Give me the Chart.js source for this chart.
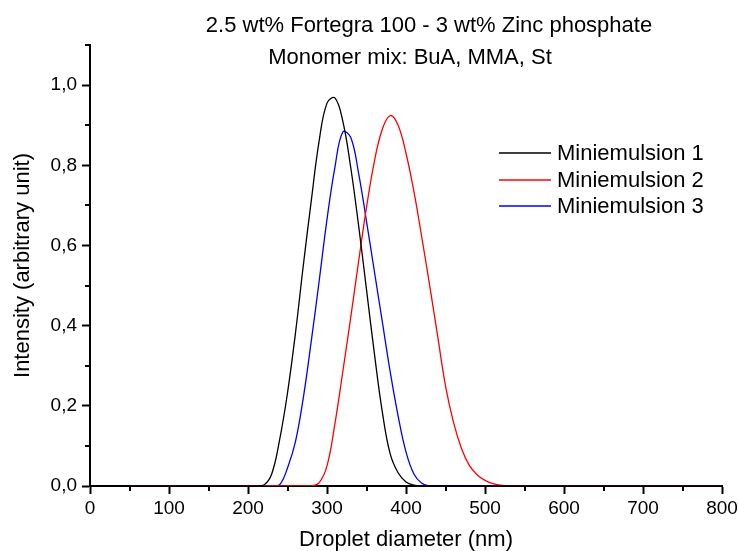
<!DOCTYPE html>
<html>
<head>
<meta charset="utf-8">
<script src="https://cdn.jsdelivr.net/npm/chart.js@4.4.1/dist/chart.umd.min.js"></script>
<style>
  html, body { margin: 0; padding: 0; background: #ffffff; }
  #wrap { width: 738px; height: 551px; }
</style>
</head>
<body>
<div id="wrap"><canvas id="c" width="738" height="551"></canvas></div>
<script>
// ---- chart text ----
const TITLE_LINES = ['2.5 wt% Fortegra 100 - 3 wt% Zinc phosphate', 'Monomer mix: BuA, MMA, St'];
const X_TITLE = 'Droplet diameter (nm)';
const Y_TITLE = 'Intensity (arbitrary unit)';
const SERIES_NAMES = ['Miniemulsion 1', 'Miniemulsion 2', 'Miniemulsion 3'];
const SERIES_COLORS = ['#000000', '#ff0000', '#0000ff'];

// ---- data ----
const DIAMETER_NM = [50, 100, 150,
  200, 210, 220, 230, 240, 250, 260, 270, 280, 290, 300, 310, 320, 330, 340, 350,
  360, 370, 380, 390, 400, 410, 420, 430, 440, 450, 460, 470, 480, 490, 500, 510,
  520, 530, 540, 550,
  600, 650, 700, 750, 800];

const MINIEMULSION_1 = [0, 0, 0,
  0, 0, 0.002, 0.03, 0.115, 0.232, 0.38, 0.55, 0.71, 0.86, 0.955, 0.968, 0.91, 0.795, 0.65, 0.49,
  0.33, 0.185, 0.08, 0.033, 0.01, 0.002, 0, 0, 0, 0, 0, 0, 0, 0, 0, 0,
  0, 0, 0, 0,
  0, 0, 0, 0, 0];

const MINIEMULSION_2 = [0, 0, 0,
  0, 0, 0, 0, 0, 0, 0, 0, 0, 0.008, 0.05, 0.155, 0.285, 0.42, 0.56, 0.695,
  0.81, 0.89, 0.924, 0.9, 0.83, 0.735, 0.62, 0.5, 0.375, 0.25, 0.16, 0.095, 0.052, 0.028, 0.014, 0.006,
  0.002, 0, 0, 0,
  0, 0, 0, 0, 0];

const MINIEMULSION_3 = [0, 0, 0,
  0, 0, 0, 0, 0.003, 0.045, 0.11, 0.22, 0.36, 0.51, 0.665, 0.795, 0.883, 0.87, 0.78, 0.66,
  0.535, 0.41, 0.285, 0.175, 0.085, 0.03, 0.007, 0, 0, 0, 0, 0, 0, 0, 0, 0,
  0, 0, 0, 0,
  0, 0, 0, 0, 0];

// ---- ticks ----
const X_TICK_VALUES = [0, 100, 200, 300, 400, 500, 600, 700, 800];
const X_TICK_LABELS = ['0', '100', '200', '300', '400', '500', '600', '700', '800'];
const X_MINOR_VALUES = [50, 150, 250, 350, 450, 550, 650, 750];
const Y_TICK_VALUES = [0, 0.2, 0.4, 0.6, 0.8, 1.0];
const Y_TICK_LABELS = ['0,0', '0,2', '0,4', '0,6', '0,8', '1,0'];
const Y_MINOR_VALUES = [0.1, 0.3, 0.5, 0.7, 0.9, 1.1];

const FONT_FAMILY = '"Liberation Sans", Arial, Helvetica, sans-serif';
Chart.defaults.font.family = FONT_FAMILY;
Chart.defaults.color = '#000000';

const SERIES = [MINIEMULSION_1, MINIEMULSION_2, MINIEMULSION_3];

function labelFor(values, labels, v, tol) {
  for (let i = 0; i < values.length; i++) {
    if (Math.abs(values[i] - v) < tol) return labels[i];
  }
  return '';
}
function isMajor(values, v, tol) {
  return values.some(t => Math.abs(t - v) < tol);
}

const decor = {
  id: 'decor',
  afterDraw(chart) {
    const { ctx, chartArea: a, scales: { x, y } } = chart;
    ctx.save();
    // minor ticks
    ctx.strokeStyle = '#000000';
    ctx.lineWidth = 2;
    ctx.beginPath();
    X_MINOR_VALUES.forEach(v => {
      const px = Math.round(x.getPixelForValue(v));
      ctx.moveTo(px, a.bottom);
      ctx.lineTo(px, a.bottom + 5);
    });
    Y_MINOR_VALUES.forEach(v => {
      const py = Math.round(y.getPixelForValue(v));
      ctx.moveTo(a.left, py);
      ctx.lineTo(a.left - 5, py);
    });
    ctx.stroke();

    // title lines
    ctx.fillStyle = '#000000';
    ctx.font = '22px ' + FONT_FAMILY;
    ctx.textAlign = 'center';
    ctx.textBaseline = 'alphabetic';
    ctx.fillText(TITLE_LINES[0], 429, 31.5);
    ctx.fillText(TITLE_LINES[1], 410, 64);

    // legend
    const rowsY = [153, 180, 206];
    ctx.textAlign = 'left';
    ctx.textBaseline = 'middle';
    chart.data.datasets.forEach((ds, i) => {
      const ly = rowsY[i];
      ctx.strokeStyle = ds.borderColor;
      ctx.lineWidth = 1.3;
      ctx.beginPath();
      ctx.moveTo(499, ly);
      ctx.lineTo(551, ly);
      ctx.stroke();
      ctx.fillStyle = '#000000';
      ctx.fillText(ds.label, 557, ly + 1);
    });
    ctx.restore();
  }
};

new Chart(document.getElementById('c'), {
  type: 'line',
  data: {
    datasets: SERIES.map((vals, i) => ({
      label: SERIES_NAMES[i],
      data: DIAMETER_NM.map((d, j) => ({ x: d, y: vals[j] })),
      borderColor: SERIES_COLORS[i],
      backgroundColor: SERIES_COLORS[i],
      borderWidth: 1.3,
      pointRadius: 0,
      pointHoverRadius: 0,
      tension: 0.4,
      fill: false
    }))
  },
  options: {
    responsive: false,
    animation: false,
    devicePixelRatio: 1,
    layout: { padding: { top: 45, right: 16, left: 0, bottom: 0 } },
    plugins: {
      legend: { display: false },
      title: { display: false },
      tooltip: { enabled: false }
    },
    scales: {
      x: {
        type: 'linear',
        min: 0,
        max: 800,
        afterFit: s => { s.height = 65; s.paddingLeft = 0; s.paddingRight = 0; },
        ticks: {
          stepSize: 50,
          autoSkip: false,
          maxRotation: 0,
          padding: 3,
          font: { size: 19 },
          color: '#000000',
          callback: v => labelFor(X_TICK_VALUES, X_TICK_LABELS, v, 0.5)
        },
        grid: {
          drawOnChartArea: false,
          drawTicks: true,
          tickLength: 8,
          tickWidth: 2,
          tickColor: ctx => (ctx.tick && isMajor(X_TICK_VALUES, ctx.tick.value, 0.5)) ? '#000000' : 'rgba(0,0,0,0)'
        },
        border: { display: true, color: '#000000', width: 2 },
        title: {
          display: true,
          text: X_TITLE,
          font: { size: 22, lineHeight: 1 },
          color: '#000000',
          padding: { top: 0, bottom: 0 }
        }
      },
      y: {
        type: 'linear',
        min: 0,
        max: 1.1,
        afterFit: s => { s.width = 90; s.paddingTop = 0; s.paddingBottom = 0; },
        ticks: {
          stepSize: 0.1,
          autoSkip: false,
          padding: 5,
          font: { size: 19 },
          color: '#000000',
          callback: v => labelFor(Y_TICK_VALUES, Y_TICK_LABELS, v, 0.001)
        },
        grid: {
          drawOnChartArea: false,
          drawTicks: true,
          tickLength: 8,
          tickWidth: 2,
          tickColor: ctx => (ctx.tick && isMajor(Y_TICK_VALUES, ctx.tick.value, 0.001)) ? '#000000' : 'rgba(0,0,0,0)'
        },
        border: { display: true, color: '#000000', width: 2 },
        title: {
          display: true,
          text: Y_TITLE,
          font: { size: 22, lineHeight: 1 },
          color: '#000000',
          padding: { top: 12, bottom: 0 }
        }
      }
    }
  },
  plugins: [decor]
});
</script>
</body>
</html>
